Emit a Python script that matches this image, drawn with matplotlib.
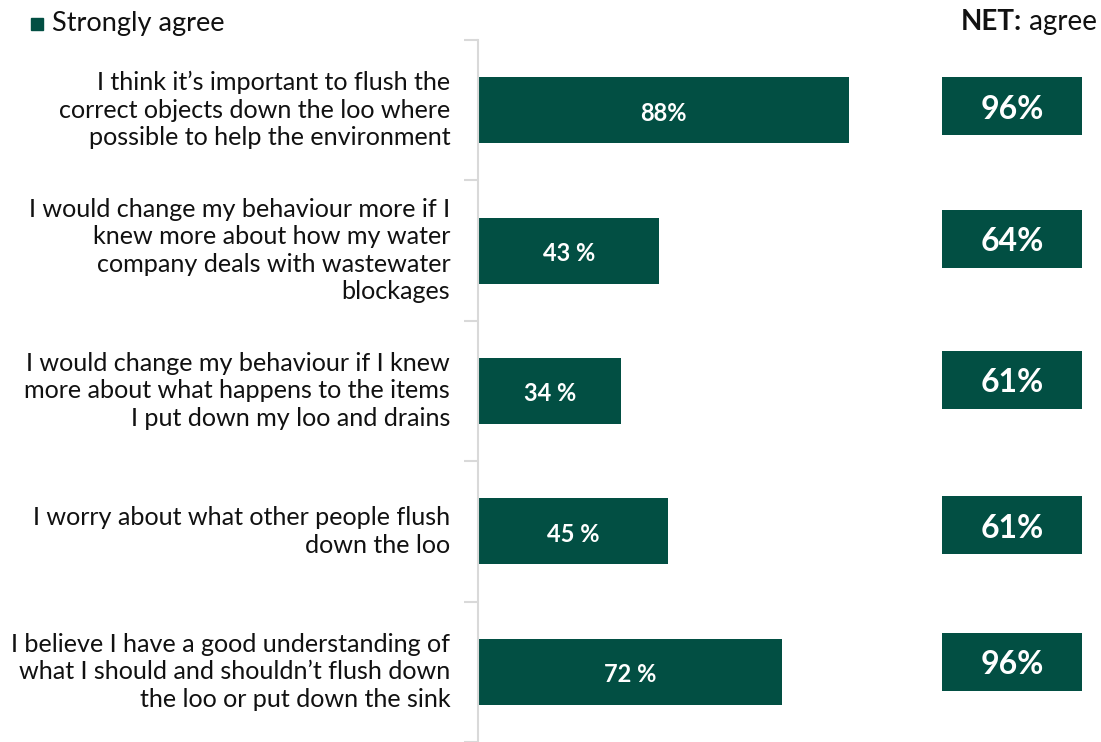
import matplotlib
matplotlib.use("Agg")
import matplotlib.pyplot as plt
import numpy as np

categories = [
    "I think it\u2019s important to flush the\ncorrect objects down the loo where\npossible to help the environment",
    "I would change my behaviour more if I\nknew more about how my water\ncompany deals with wastewater\nblockages",
    "I would change my behaviour if I knew\nmore about what happens to the items\nI put down my loo and drains",
    "I worry about what other people flush\ndown the loo",
    "I believe I have a good understanding of\nwhat I should and shouldn\u2019t flush down\nthe loo or put down the sink",
]
strongly_agree = [88, 43, 34, 45, 72]
bar_labels = ["88%", "43 %", "34 %", "45 %", "72 %"]
net_agree = [96, 64, 61, 61, 96]

GREEN = "#024F43"
FONT = "Lato"
plt.rcParams["font.family"] = [FONT, "DejaVu Sans"]

W, H = 1101, 742
fig = plt.figure(figsize=(W / 100, H / 100), dpi=100)

top_px = 40
ax = fig.add_axes([478 / W, 0, 422 / W, (H - top_px) / H])
n = len(categories)
y = np.arange(n)
ax.barh(y, strongly_agree, height=0.47, color=GREEN)
ax.set_xlim(0, 100)
ax.set_ylim(n - 0.5, -0.5)

for yi, v, lab in zip(y, strongly_agree, bar_labels):
    ax.text(v / 2, yi + 0.02, lab, ha="center", va="center", color="white",
            fontsize=17, fontweight="bold")

for yi, cat in zip(y, categories):
    ax.text(-0.066, yi, cat, transform=ax.get_yaxis_transform(), ha="right",
            va="center", fontsize=18.1, linespacing=1.24, color="#111111")

for s in ["top", "right", "bottom"]:
    ax.spines[s].set_visible(False)
ax.spines["left"].set_color("#d9d9d9")
ax.spines["left"].set_linewidth(1.5)
ax.set_xticks([])
ax.set_yticks(np.arange(-0.5, n, 1.0))
ax.set_yticklabels([])
ax.tick_params(axis="y", length=10, width=1.5, color="#d9d9d9")

# NET boxes
px_per_cat = (H - top_px) / n
net_shift_px = [-4, -12, -11, -6, -10]
ax2 = fig.add_axes([942 / W, 0, 140 / W, (H - top_px) / H])
ax2.set_xlim(0, 1)
ax2.set_ylim(n - 0.5, -0.5)
ax2.axis("off")
ny = y + np.array(net_shift_px) / px_per_cat
ax2.barh(ny, [1] * n, height=58 / px_per_cat, color=GREEN)
for yi, v in zip(ny, net_agree):
    ax2.text(0.5, yi + 0.02, f"{v}%", ha="center", va="center", color="white",
             fontsize=23, fontweight="bold")

# legend
fig.patches.append(plt.Rectangle((31 / W, 1 - 30 / H), 12 / W, 12 / H,
                                 transform=fig.transFigure, color=GREEN))
fig.text(52 / W, 1 - 24 / H, "Strongly agree", ha="left", va="center",
         fontsize=19.5, color="#111111")
t = fig.text(1097 / W, 1 - 22 / H, " agree", ha="right", va="center",
             fontsize=20, color="#111111")
fig.canvas.draw()
bb = t.get_window_extent()
fig.text(bb.x0 / W, 1 - 22 / H, "NET:", ha="right", va="center",
         fontsize=20, fontweight="bold", color="#111111")

fig.savefig("out.png", dpi=100)
